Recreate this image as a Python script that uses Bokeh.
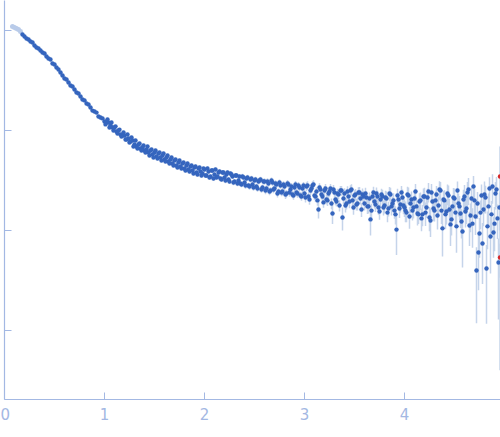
from bokeh.plotting import figure
from bokeh.models import ColumnDataSource, Range1d, FixedTicker, LogTicker
from bokeh.embed import file_html
from bokeh.resources import INLINE

# ---------------- data ----------------
# excluded low-q points (drawn pale)
q_excl = [0.08, 0.10, 0.12, 0.14, 0.16]
i_excl = [109.6, 107.2, 104.7, 102.3, 97.7]
e_excl = [0.6, 0.55, 0.5, 0.5, 0.5]

q_main = [
    0.18, 0.20, 0.22, 0.24, 0.26, 0.28, 0.30, 0.32, 0.34, 0.36,
    0.38, 0.40, 0.42, 0.44, 0.46, 0.48, 0.50, 0.52, 0.54, 0.56,
    0.58, 0.60, 0.62, 0.64, 0.66, 0.68, 0.70, 0.72, 0.74, 0.76,
    0.78, 0.80, 0.82, 0.84, 0.86, 0.88, 0.90, 0.92, 0.94, 0.96,
    0.98, 1.00, 1.02, 1.04, 1.06, 1.08, 1.10, 1.12, 1.14, 1.16,
    1.18, 1.20, 1.22, 1.24, 1.26, 1.28, 1.30, 1.32, 1.34, 1.36,
    1.38, 1.40, 1.42, 1.44, 1.46, 1.48, 1.50, 1.52, 1.54, 1.56,
    1.58, 1.60, 1.62, 1.64, 1.66, 1.68, 1.70, 1.72, 1.74, 1.76,
    1.78, 1.80, 1.82, 1.84, 1.86, 1.88, 1.90, 1.92, 1.94, 1.96,
    1.98, 2.00, 2.02, 2.04, 2.06, 2.08, 2.10, 2.12, 2.14, 2.16,
    2.18, 2.20, 2.22, 2.24, 2.26, 2.28, 2.30, 2.32, 2.34, 2.36,
    2.38, 2.40, 2.42, 2.44, 2.46, 2.48, 2.50, 2.52, 2.54, 2.56,
    2.58, 2.60, 2.62, 2.64, 2.66, 2.68, 2.70, 2.72, 2.74, 2.76,
    2.78, 2.80, 2.82, 2.84, 2.86, 2.88, 2.90, 2.92, 2.94, 2.96,
    2.98, 3.00, 3.02, 3.04, 3.06, 3.08, 3.10, 3.12, 3.14, 3.16,
    3.18, 3.20, 3.22, 3.24, 3.26, 3.28, 3.30, 3.32, 3.34, 3.36,
    3.38, 3.40, 3.42, 3.44, 3.46, 3.48, 3.50, 3.52, 3.54, 3.56,
    3.58, 3.60, 3.62, 3.64, 3.66, 3.68, 3.70, 3.72, 3.74, 3.76,
    3.78, 3.80, 3.82, 3.84, 3.86, 3.88, 3.90, 3.92, 3.94, 3.96,
    3.98, 4.00, 4.02, 4.04, 4.06, 4.08, 4.10, 4.12, 4.14, 4.16,
    4.18, 4.20, 4.22, 4.24, 4.26, 4.28, 4.30, 4.32, 4.34, 4.36,
    4.38, 4.40, 4.42, 4.44, 4.46, 4.48, 4.50, 4.52, 4.54, 4.56,
    4.58, 4.60, 4.62, 4.64, 4.66, 4.68, 4.70, 4.72, 4.74, 4.76,
    4.78, 4.80, 4.82, 4.84, 4.86, 4.88, 4.90, 4.92, 4.94, 4.95,
]

i_main = [
    91.2, 87.1, 83.2, 81.3, 77.6, 75.9, 70.8, 67.6, 66.1, 63.1,
    60.3, 58.9, 55.0, 52.5, 51.3, 46.8, 45.7, 42.7, 40.7, 38.0,
    35.5, 33.1, 32.4, 30.2, 28.2, 27.5, 25.7, 24.0, 23.4, 21.9,
    20.4, 20.0, 18.6, 18.2, 17.0, 15.8, 15.5, 15.1, 13.8, 13.5,
    13.2, 12.3, 12.0, 12.0, 11.2, 10.7, 10.7, 9.77, 10.0, 9.12,
    8.91, 8.91, 8.13, 8.32, 7.76, 7.94, 7.24, 6.92, 7.24, 6.61,
    6.76, 6.31, 6.46, 6.03, 6.31, 5.75, 6.03, 5.50, 5.89, 5.37,
    5.62, 5.13, 5.37, 4.90, 5.13, 4.68, 5.01, 4.47, 4.79, 4.37,
    4.68, 4.17, 4.47, 4.07, 4.37, 3.98, 4.27, 3.80, 4.17, 3.89,
    3.72, 4.07, 3.55, 3.89, 3.47, 3.98, 3.63, 3.39, 3.80, 3.31,
    3.80, 3.39, 3.63, 3.24, 3.72, 3.47, 3.09, 3.55, 3.16, 2.95,
    3.47, 3.02, 3.31, 2.82, 3.24, 2.88, 3.16, 2.75, 3.09, 3.24,
    2.69, 3.09, 2.63, 2.95, 2.51, 3.02, 2.63, 2.88, 2.45, 2.82,
    2.45, 2.75, 2.34, 2.88, 2.57, 2.29, 2.69, 2.40, 2.82, 2.24,
    2.63, 2.34, 2.75, 2.19, 2.51, 2.82, 2.24, 2.45, 1.62, 2.57,
    2.19, 2.51, 2.04, 2.34, 2.63, 1.48, 2.40, 1.95, 2.29, 2.51,
    1.35, 2.34, 1.86, 2.19, 2.51, 2.00, 2.24, 1.82, 2.40, 2.09,
    2.29, 1.86, 2.14, 1.74, 1.29, 2.19, 1.95, 2.34, 1.70, 2.04,
    2.19, 1.78, 2.09, 1.66, 2.29, 1.86, 1.58, 1.02, 2.04, 1.82,
    2.14, 1.70, 1.51, 2.24, 1.86, 1.58, 2.09, 1.74, 1.45, 2.00,
    1.45, 2.19, 1.70, 2.45, 1.26, 1.95, 1.58, 2.29, 1.78, 2.51,
    1.05, 2.00, 1.55, 2.24, 1.15, 1.74, 2.09, 1.10, 1.86, 1.48,
    0.977, 2.19, 1.66, 2.57, 1.41, 1.17, 2.00, 0.398, 0.603, 1.51,
    0.741, 2.29, 0.417, 1.74, 0.871, 2.75, 1.17, 2.57, 0.479, 1.70,
]

e_main = [
    0.50, 0.45, 0.40, 0.40, 0.40, 0.38, 0.35, 0.34, 0.33, 0.32,
    0.36, 0.35, 0.33, 0.32, 0.31, 0.28, 0.28, 0.26, 0.25, 0.24,
    0.36, 0.33, 0.32, 0.30, 0.28, 0.28, 0.26, 0.24, 0.23, 0.22,
    0.25, 0.24, 0.22, 0.22, 0.21, 0.19, 0.19, 0.18, 0.17, 0.16,
    0.26, 0.25, 0.24, 0.24, 0.22, 0.21, 0.21, 0.20, 0.20, 0.18,
    0.22, 0.22, 0.20, 0.21, 0.19, 0.20, 0.18, 0.17, 0.18, 0.17,
    0.20, 0.19, 0.19, 0.18, 0.19, 0.17, 0.18, 0.17, 0.18, 0.16,
    0.20, 0.18, 0.19, 0.17, 0.18, 0.16, 0.18, 0.16, 0.17, 0.15,
    0.19, 0.17, 0.18, 0.16, 0.17, 0.16, 0.17, 0.15, 0.17, 0.16,
    0.19, 0.20, 0.18, 0.19, 0.17, 0.20, 0.18, 0.17, 0.19, 0.17,
    0.21, 0.19, 0.20, 0.18, 0.20, 0.19, 0.17, 0.20, 0.17, 0.16,
    0.23, 0.20, 0.22, 0.18, 0.21, 0.19, 0.21, 0.18, 0.20, 0.21,
    0.20, 0.23, 0.20, 0.22, 0.19, 0.23, 0.20, 0.22, 0.18, 0.21,
    0.21, 0.23, 0.20, 0.24, 0.22, 0.19, 0.23, 0.20, 0.24, 0.19,
    0.26, 0.23, 0.28, 0.22, 0.25, 0.28, 0.22, 0.25, 0.30, 0.26,
    0.24, 0.28, 0.22, 0.26, 0.29, 0.32, 0.26, 0.21, 0.25, 0.28,
    0.35, 0.30, 0.24, 0.28, 0.33, 0.26, 0.29, 0.24, 0.31, 0.27,
    0.34, 0.28, 0.32, 0.26, 0.40, 0.33, 0.29, 0.35, 0.26, 0.31,
    0.37, 0.30, 0.36, 0.28, 0.39, 0.32, 0.27, 0.45, 0.35, 0.31,
    0.43, 0.34, 0.30, 0.45, 0.37, 0.32, 0.42, 0.35, 0.29, 0.40,
    0.35, 0.48, 0.37, 0.54, 0.40, 0.43, 0.35, 0.50, 0.39, 0.55,
    0.50, 0.52, 0.40, 0.58, 0.45, 0.45, 0.54, 0.50, 0.48, 0.42,
    0.55, 0.66, 0.50, 0.77, 0.45, 0.50, 0.60, 0.28, 0.35, 0.48,
    0.45, 0.80, 0.30, 0.60, 0.50, 0.90, 0.55, 0.85, 0.35, 0.70,
]

# interleaved readings between the grid above (q > 1)
q_mid = [
    1.01, 1.03, 1.05, 1.07, 1.09, 1.11, 1.13, 1.15, 1.17, 1.19,
    1.21, 1.23, 1.25, 1.27, 1.29, 1.31, 1.33, 1.35, 1.37, 1.39,
    1.41, 1.43, 1.45, 1.47, 1.49, 1.51, 1.53, 1.55, 1.57, 1.59,
    1.61, 1.63, 1.65, 1.67, 1.69, 1.71, 1.73, 1.75, 1.77, 1.79,
    1.81, 1.83, 1.85, 1.87, 1.89, 1.91, 1.93, 1.95, 1.97, 1.99,
    2.01, 2.03, 2.05, 2.07, 2.09, 2.11, 2.13, 2.15, 2.17, 2.19,
    2.21, 2.23, 2.25, 2.27, 2.29, 2.31, 2.33, 2.35, 2.37, 2.39,
    2.41, 2.43, 2.45, 2.47, 2.49, 2.51, 2.53, 2.55, 2.57, 2.59,
    2.61, 2.63, 2.65, 2.67, 2.69, 2.71, 2.73, 2.75, 2.77, 2.79,
    2.81, 2.83, 2.85, 2.87, 2.89, 2.91, 2.93, 2.95, 2.97, 2.99,
    3.01, 3.03, 3.05, 3.07, 3.09, 3.11, 3.13, 3.15, 3.17, 3.19,
    3.21, 3.23, 3.25, 3.27, 3.29, 3.31, 3.33, 3.35, 3.37, 3.39,
    3.41, 3.43, 3.45, 3.47, 3.49, 3.51, 3.53, 3.55, 3.57, 3.59,
    3.61, 3.63, 3.65, 3.67, 3.69, 3.71, 3.73, 3.75, 3.77, 3.79,
    3.81, 3.83, 3.85, 3.87, 3.89, 3.91, 3.93, 3.95, 3.97, 3.99,
    4.01, 4.03, 4.05, 4.07, 4.09, 4.11, 4.13, 4.15, 4.17, 4.19,
    4.21, 4.23, 4.25, 4.27, 4.29, 4.31, 4.33, 4.35, 4.37, 4.39,
    4.41, 4.43, 4.45, 4.47, 4.49, 4.51, 4.53, 4.55, 4.57, 4.59,
    4.61, 4.63, 4.65, 4.67, 4.69, 4.71, 4.73, 4.75, 4.77, 4.79,
    4.81, 4.83, 4.85, 4.87, 4.89, 4.91, 4.93,
]

i_mid = [
    11.5, 12.9, 10.7, 12.0, 10.0, 11.0, 9.33, 10.2, 8.71, 9.55,
    8.13, 9.12, 7.59, 8.51, 6.92, 7.94, 6.61, 7.41, 6.31, 7.08,
    6.03, 6.92, 5.62, 6.46, 5.37, 6.31, 5.25, 6.03, 5.01, 5.89,
    4.90, 5.62, 4.68, 5.37, 4.47, 5.13, 4.27, 5.01, 4.17, 4.79,
    3.98, 4.68, 3.89, 4.47, 3.72, 4.37, 3.63, 4.27, 3.55, 4.17,
    3.55, 4.17, 3.39, 3.98, 3.31, 4.07, 3.47, 3.89, 3.24, 3.80,
    3.16, 3.80, 3.09, 3.63, 3.02, 3.55, 2.95, 3.47, 2.88, 3.39,
    2.82, 3.39, 2.75, 3.31, 2.69, 3.24, 2.63, 3.16, 2.57, 3.09,
    2.51, 3.09, 2.45, 3.16, 2.57, 2.95, 2.34, 3.02, 2.40, 2.88,
    2.29, 2.95, 2.40, 2.75, 2.24, 2.88, 2.34, 2.69, 2.19, 2.82,
    2.14, 2.82, 2.04, 2.63, 2.88, 2.19, 2.00, 2.69, 2.29, 1.91,
    2.63, 2.00, 2.45, 1.86, 2.57, 2.04, 2.34, 1.78, 2.51, 2.09,
    1.78, 2.45, 1.95, 2.57, 1.70, 2.29, 1.86, 2.40, 1.62, 2.19,
    2.34, 1.74, 2.09, 1.58, 2.40, 1.82, 2.19, 1.55, 2.29, 1.70,
    2.14, 1.51, 2.34, 1.74, 2.00, 1.45, 2.24, 1.66, 2.40, 1.78,
    1.58, 2.29, 1.38, 2.04, 1.70, 2.45, 1.48, 1.95, 1.32, 2.19,
    1.51, 2.14, 1.35, 2.40, 1.66, 2.00, 1.41, 2.57, 1.58, 2.04,
    1.45, 2.34, 1.62, 1.29, 2.14, 1.51, 2.51, 1.74, 1.23, 2.04,
    1.55, 2.40, 1.12, 2.09, 2.75, 1.38, 1.86, 0.933, 2.24, 1.62,
    2.14, 1.10, 2.63, 1.45, 0.955, 2.34, 1.32,
]

e_mid = [
    0.22, 0.24, 0.21, 0.23, 0.20, 0.21, 0.19, 0.20, 0.18, 0.19,
    0.19, 0.21, 0.18, 0.20, 0.17, 0.19, 0.17, 0.18, 0.16, 0.18,
    0.18, 0.19, 0.17, 0.18, 0.17, 0.18, 0.16, 0.18, 0.16, 0.17,
    0.17, 0.18, 0.17, 0.18, 0.16, 0.17, 0.16, 0.17, 0.16, 0.17,
    0.18, 0.20, 0.18, 0.19, 0.17, 0.19, 0.17, 0.18, 0.17, 0.18,
    0.18, 0.20, 0.17, 0.19, 0.17, 0.20, 0.18, 0.19, 0.17, 0.19,
    0.19, 0.21, 0.18, 0.20, 0.18, 0.20, 0.18, 0.19, 0.18, 0.19,
    0.20, 0.22, 0.19, 0.21, 0.19, 0.21, 0.19, 0.21, 0.19, 0.20,
    0.21, 0.23, 0.20, 0.23, 0.21, 0.22, 0.20, 0.22, 0.20, 0.22,
    0.22, 0.24, 0.22, 0.23, 0.21, 0.24, 0.22, 0.23, 0.21, 0.24,
    0.24, 0.28, 0.23, 0.27, 0.29, 0.25, 0.23, 0.27, 0.25, 0.22,
    0.28, 0.24, 0.27, 0.23, 0.28, 0.25, 0.27, 0.23, 0.28, 0.25,
    0.27, 0.32, 0.28, 0.33, 0.26, 0.31, 0.28, 0.32, 0.26, 0.30,
    0.33, 0.28, 0.31, 0.27, 0.34, 0.29, 0.32, 0.27, 0.33, 0.29,
    0.36, 0.30, 0.38, 0.33, 0.35, 0.30, 0.37, 0.33, 0.38, 0.33,
    0.37, 0.45, 0.34, 0.42, 0.38, 0.47, 0.36, 0.41, 0.34, 0.44,
    0.40, 0.47, 0.37, 0.52, 0.42, 0.46, 0.39, 0.54, 0.42, 0.46,
    0.42, 0.55, 0.45, 0.40, 0.52, 0.44, 0.58, 0.47, 0.40, 0.52,
    0.48, 0.66, 0.42, 0.60, 0.75, 0.48, 0.56, 0.40, 0.64, 0.52,
    0.66, 0.45, 0.78, 0.52, 0.42, 0.72, 0.50,
]

# flagged outliers (drawn red)
q_out = [4.955, 4.955]
i_out = [3.47, 0.537]
e_out = [3.43, 0.20]

x_ticks = [0, 1, 2, 3, 4]

# ---------------- drawing ----------------
AXIS_COL = "#a3b8e3"
PT_COL = "#3565be"
ERR_COL = "#c5d4ea"
PALE_COL = "#b9cbe9"


def bars(q, i, e):
    lo = [max(v - s, 1e-4) for v, s in zip(i, e)]
    hi = [v + s for v, s in zip(i, e)]
    return ColumnDataSource(dict(x=q, lo=lo, hi=hi))


p = figure(width=500, height=437, output_backend="svg", toolbar_location=None,
           y_axis_type="log", x_range=Range1d(0, 4.96), y_range=Range1d(0.0204, 199.5),
           min_border_left=4, min_border_right=0, min_border_top=0, min_border_bottom=38)
p.outline_line_color = None
p.grid.visible = False
p.background_fill_color = "white"

for q, i, e in ((q_main, i_main, e_main), (q_mid, i_mid, e_mid),
                (q_excl, i_excl, e_excl), (q_out, i_out, e_out)):
    p.segment(x0="x", y0="lo", x1="x", y1="hi", source=bars(q, i, e),
              line_color=ERR_COL, line_width=1.5)

p.scatter(q_excl, i_excl, size=5, color=PALE_COL, line_color=None)
p.scatter(q_main, i_main, size=4.4, color=PT_COL, line_color=None)
p.scatter(q_mid, i_mid, size=4.4, color=PT_COL, line_color=None)
p.scatter(q_out, i_out, size=4.4, color="#d62728", line_color=None)

# axes
p.xaxis.ticker = FixedTicker(ticks=x_ticks)
p.xaxis.minor_tick_line_color = None
p.xaxis.major_tick_in = 7
p.xaxis.major_tick_out = 0
p.xaxis.axis_line_color = AXIS_COL
p.xaxis.major_tick_line_color = AXIS_COL
p.xaxis.major_label_text_color = AXIS_COL
p.xaxis.major_label_text_font = "DejaVu Sans"
p.xaxis.major_label_text_font_size = "15px"
p.xaxis.major_label_standoff = 8
p.xaxis.axis_line_width = 1.2

p.yaxis.ticker = LogTicker(desired_num_ticks=5, num_minor_ticks=0)
p.yaxis.minor_tick_line_color = None
p.yaxis.major_tick_in = 7
p.yaxis.major_tick_out = 0
p.yaxis.axis_line_color = AXIS_COL
p.yaxis.major_tick_line_color = AXIS_COL
p.yaxis.major_label_text_font_size = "1px"
p.yaxis.major_label_text_alpha = 0
p.yaxis.major_label_standoff = 0
p.yaxis.axis_line_width = 1.2

open("out.html", "w").write(file_html(p, INLINE))
